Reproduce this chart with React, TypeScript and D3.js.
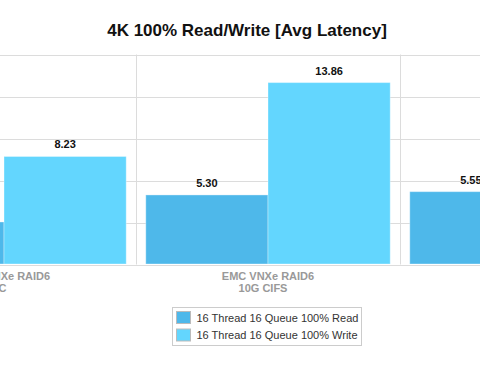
import React from "react";
import * as d3 from "d3";

const title = "4K 100% Read/Write [Avg Latency]";
const categories = ["EMC VNXe RAID6|FC", "EMC VNXe RAID6|10G CIFS", "EMC VNXe RAID6|iSCSI"];
const seriesNames = ["16 Thread 16 Queue 100% Read", "16 Thread 16 Queue 100% Write"];
const readValues = [3.24, 5.3, 5.55];
const writeValues = [8.23, 13.86, 12.4];
const yTicks = [0, 3.2, 6.4, 9.6, 12.8, 16];
const colors = ["#4EB8EA", "#63D6FE"];

export default function App() {
  const W = 480, H = 378;
  const plotTop = 54.5, plotBottom = 264.5;
  const x = d3.scaleBand<string>().domain(categories).range([-128, 664]).paddingInner(0).paddingOuter(0);
  const xs = d3.scaleBand<number>().domain([0, 1]).range([0, x.bandwidth()]).paddingInner(0).paddingOuter(0.08);
  const y = d3.scaleLinear().domain([0, 16]).range([plotBottom, plotTop]);
  const series = [readValues, writeValues];
  const font = "'Liberation Sans', Arial, Helvetica, sans-serif";

  return (
    <svg width={W} height={H} style={{ position: "absolute", left: 0, top: 0, display: "block" }} fontFamily={font}>
      <rect width={W} height={H} fill="#fff" />
      <text x={247} y={36} textAnchor="middle" fontSize={17} fontWeight="bold" fill="#111">{title}</text>
      {yTicks.map((t) => (
        <line key={t} x1={0} x2={W} y1={Math.round(y(t)) + 0.5} y2={Math.round(y(t)) + 0.5} stroke="#dcdcdc" strokeWidth={1} />
      ))}
      {categories.slice(1).map((c) => (
        <line key={c} x1={Math.round(x(c)!) + 0.5} x2={Math.round(x(c)!) + 0.5} y1={plotTop} y2={plotBottom} stroke="#dcdcdc" strokeWidth={1} />
      ))}
      {categories.map((c, ci) => (
        <g key={c}>
          {series.map((vals, si) => {
            const bx = x(c)! + xs(si)!;
            const by = y(vals[ci]);
            return (
              <g key={si}>
                <rect x={bx} y={by} width={xs.bandwidth()} height={plotBottom - 0.5 - by} fill={colors[si]} stroke="rgba(255,255,255,0.35)" strokeWidth={1} />
                <text x={bx + xs.bandwidth() / 2} y={by - 8} textAnchor="middle" fontSize={11} fontWeight="bold" fill="#111">{vals[ci].toFixed(2)}</text>
              </g>
            );
          })}
          {c.split("|").map((line, li) => (
            <text key={li} x={x(c)! + x.bandwidth() / 2 - (li === 1 ? 5 : 0)} y={280 + li * 12.3} textAnchor="middle" fontSize={11} fontWeight="bold" fill="#999">{line}</text>
          ))}
        </g>
      ))}
      <g>
        <rect x={172.5} y={307.5} width={189} height={38} fill="#fff" stroke="#cccccc" />
        {seriesNames.map((n, i) => (
          <g key={n} transform={`translate(0, ${i * 17.5})`}>
            <rect x={176.5} y={311.5} width={14} height={12} fill={colors[i]} stroke="#bbbbbb" />
            <text x={196.5} y={321.5} fontSize={11} fill="#333">{n}</text>
          </g>
        ))}
      </g>
    </svg>
  );
}
